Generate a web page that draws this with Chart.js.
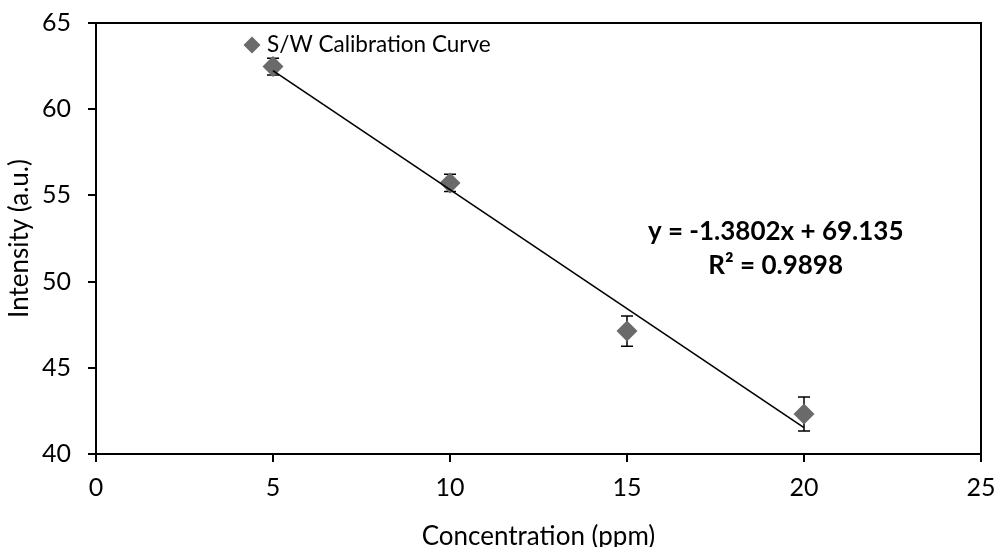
<!DOCTYPE html>
<html>
<head>
<meta charset="utf-8">
<script src="https://cdn.jsdelivr.net/npm/chart.js@4.4.0/dist/chart.umd.min.js"></script>
<style>
  html, body { margin: 0; padding: 0; background: #fff; }
  #wrap { width: 997px; height: 547px; }
</style>
</head>
<body>
<div id="wrap"><canvas id="calChart" width="997" height="547"></canvas></div>
<script>
// calibration points
const concentration = [5, 10, 15, 20];
const intensity = [62.47, 55.72, 47.13, 42.32];
const errorSize = [0.48, 0.5, 0.88, 0.99];

// linear fit reported on the chart
const slope = -1.3802;
const intercept = 69.135;
const rSquared = 0.9898;

const xTicks = [0, 5, 10, 15, 20, 25];
const yTicks = [40, 45, 50, 55, 60, 65];

const FONT = 'Lato, "Open Sans", sans-serif';
const MARKER = '#6a6a6a';

const pts = concentration.map((x, i) => ({ x: x, y: intensity[i] }));
const fitX = [concentration[0], concentration[concentration.length - 1]];
const fitPts = fitX.map(x => ({ x: x, y: slope * x + intercept }));

// error bars, frame, legend and equation label
const extras = {
  id: 'extras',
  beforeDatasetsDraw(chart) {
    const ctx = chart.ctx;
    const xs = chart.scales.x, ys = chart.scales.y;
    ctx.save();
    ctx.strokeStyle = '#000';
    ctx.lineWidth = 1.5;
    concentration.forEach((x, i) => {
      const px = xs.getPixelForValue(x);
      const top = ys.getPixelForValue(intensity[i] + errorSize[i]);
      const bot = ys.getPixelForValue(intensity[i] - errorSize[i]);
      ctx.beginPath();
      ctx.moveTo(px, top); ctx.lineTo(px, bot);
      ctx.moveTo(px - 6, top); ctx.lineTo(px + 6, top);
      ctx.moveTo(px - 6, bot); ctx.lineTo(px + 6, bot);
      ctx.stroke();
    });
    ctx.restore();
  },
  afterDraw(chart) {
    const ctx = chart.ctx;
    const a = chart.chartArea;
    const xs = chart.scales.x, ys = chart.scales.y;
    ctx.save();
    ctx.strokeStyle = '#000';
    ctx.lineWidth = 2;
    ctx.strokeRect(a.left, a.top, a.right - a.left, a.bottom - a.top);

    // legend entry
    const lx = a.left + 156, ly = a.top + 22;
    ctx.fillStyle = MARKER;
    ctx.beginPath();
    ctx.moveTo(lx - 8.5, ly); ctx.lineTo(lx, ly - 8.5);
    ctx.lineTo(lx + 8.5, ly); ctx.lineTo(lx, ly + 8.5);
    ctx.closePath();
    ctx.fill();
    ctx.fillStyle = '#000';
    ctx.font = '22.5px ' + FONT;
    ctx.textAlign = 'left';
    ctx.textBaseline = 'middle';
    ctx.fillText('S/W Calibration Curve', lx + 15, ly);

    // fit equation
    const ex = xs.getPixelForValue(19.2);
    ctx.font = 'bold 26px ' + FONT;
    ctx.textAlign = 'center';
    ctx.fillText('y = ' + slope + 'x + ' + intercept, ex, ys.getPixelForValue(52.9));
    ctx.fillText('R² = ' + rSquared, ex, ys.getPixelForValue(50.9));
    ctx.restore();
  }
};

new Chart(document.getElementById('calChart'), {
  type: 'scatter',
  data: {
    datasets: [
      {
        label: 'Linear fit',
        type: 'line',
        data: fitPts,
        borderColor: '#000',
        borderWidth: 1.6,
        pointRadius: 0,
        fill: false,
        order: 0
      },
      {
        label: 'S/W Calibration Curve',
        data: pts,
        pointStyle: 'rectRot',
        pointRadius: 10.5,
        backgroundColor: MARKER,
        borderColor: MARKER,
        borderWidth: 0,
        order: 1
      }
    ]
  },
  plugins: [extras],
  options: {
    responsive: false,
    animation: false,
    layout: { padding: { top: 23, right: 16, left: 0, bottom: 0 } },
    plugins: {
      legend: { display: false },
      tooltip: { enabled: false }
    },
    scales: {
      x: {
        type: 'linear',
        min: 0,
        max: 25,
        afterBuildTicks: s => { s.ticks = xTicks.map(v => ({ value: v })); },
        afterFit: s => {
          s.height = 93;
          s.paddingLeft = 0;
          s.paddingRight = 0;
        },
        grid: { drawOnChartArea: false, drawTicks: true, tickLength: 8, color: '#000', lineWidth: 2 },
        border: { color: '#000', width: 2 },
        ticks: { color: '#000', font: { family: FONT, size: 25 }, padding: 11, maxRotation: 0 },
        title: {
          display: true,
          text: 'Concentration (ppm)',
          color: '#000',
          font: { family: FONT, size: 26, lineHeight: 0.8 },
          padding: { top: 0, bottom: 0 }
        }
      },
      y: {
        type: 'linear',
        min: 40,
        max: 65,
        afterBuildTicks: s => { s.ticks = yTicks.map(v => ({ value: v })); },
        afterFit: s => {
          s.width = 96;
          s.paddingTop = 0;
          s.paddingBottom = 0;
        },
        grid: { drawOnChartArea: false, drawTicks: true, tickLength: 8, color: '#000', lineWidth: 2 },
        border: { color: '#000', width: 2 },
        ticks: { color: '#000', font: { family: FONT, size: 25 }, padding: 17 },
        title: {
          display: true,
          text: 'Intensity (a.u.)',
          color: '#000',
          font: { family: FONT, size: 26, lineHeight: 1 },
          padding: { top: 7, bottom: 0 }
        }
      }
    }
  }
});
</script>
</body>
</html>
